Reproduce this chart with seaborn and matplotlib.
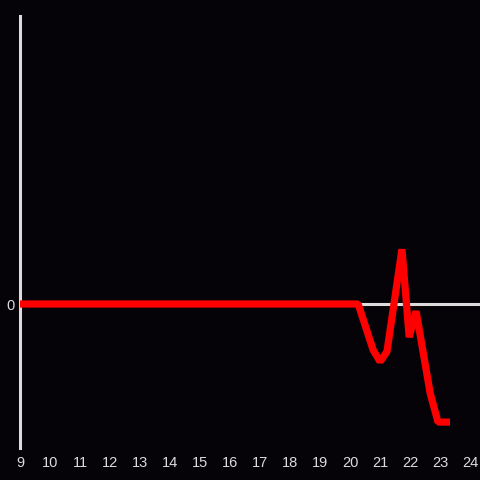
import pandas as pd
import seaborn as sns
import matplotlib.pyplot as plt

# hour of day vs value
hours = [9.0, 20.27, 20.77, 21.0, 21.23, 21.73, 21.97, 22.2, 22.67, 22.93, 23.33]
values = [0.0, 0.0, -0.32, -0.40, -0.33, 0.38, -0.23, -0.05, -0.62, -0.82, -0.82]
xticks = list(range(9, 25))

bg = "#050308"
fg = "#dcdcdc"

sns.set_style("dark", {"axes.facecolor": bg, "figure.facecolor": bg})
plt.rcParams["font.family"] = ["Liberation Sans", "DejaVu Sans"]

df = pd.DataFrame({"hour": hours, "value": values})

fig = plt.figure(figsize=(4.8, 4.8), dpi=100)
ax = fig.add_axes([20 / 480, 32 / 480, 460 / 480, 432 / 480])

ax.axhline(0, color=fg, lw=2.2, zorder=1)
sns.lineplot(data=df, x="hour", y="value", ax=ax, color="#ff0000", lw=5.2,
             solid_joinstyle="bevel", solid_capstyle="butt", zorder=3)

ax.set_xlim(9, 24.33)
ax.set_ylim(-1, 2)
ax.set_xticks(xticks)
ax.set_yticks([0])
ax.tick_params(axis="both", length=0, colors=fg, labelsize=10.5, pad=6)
ax.tick_params(axis="y", pad=4)
ax.set_xlabel("")
ax.set_ylabel("")
ax.grid(False)
for s in ["top", "right", "bottom"]:
    ax.spines[s].set_visible(False)
ax.spines["left"].set_color(fg)
ax.spines["left"].set_linewidth(2.2)

fig.savefig("out.png", dpi=100, facecolor=bg)
